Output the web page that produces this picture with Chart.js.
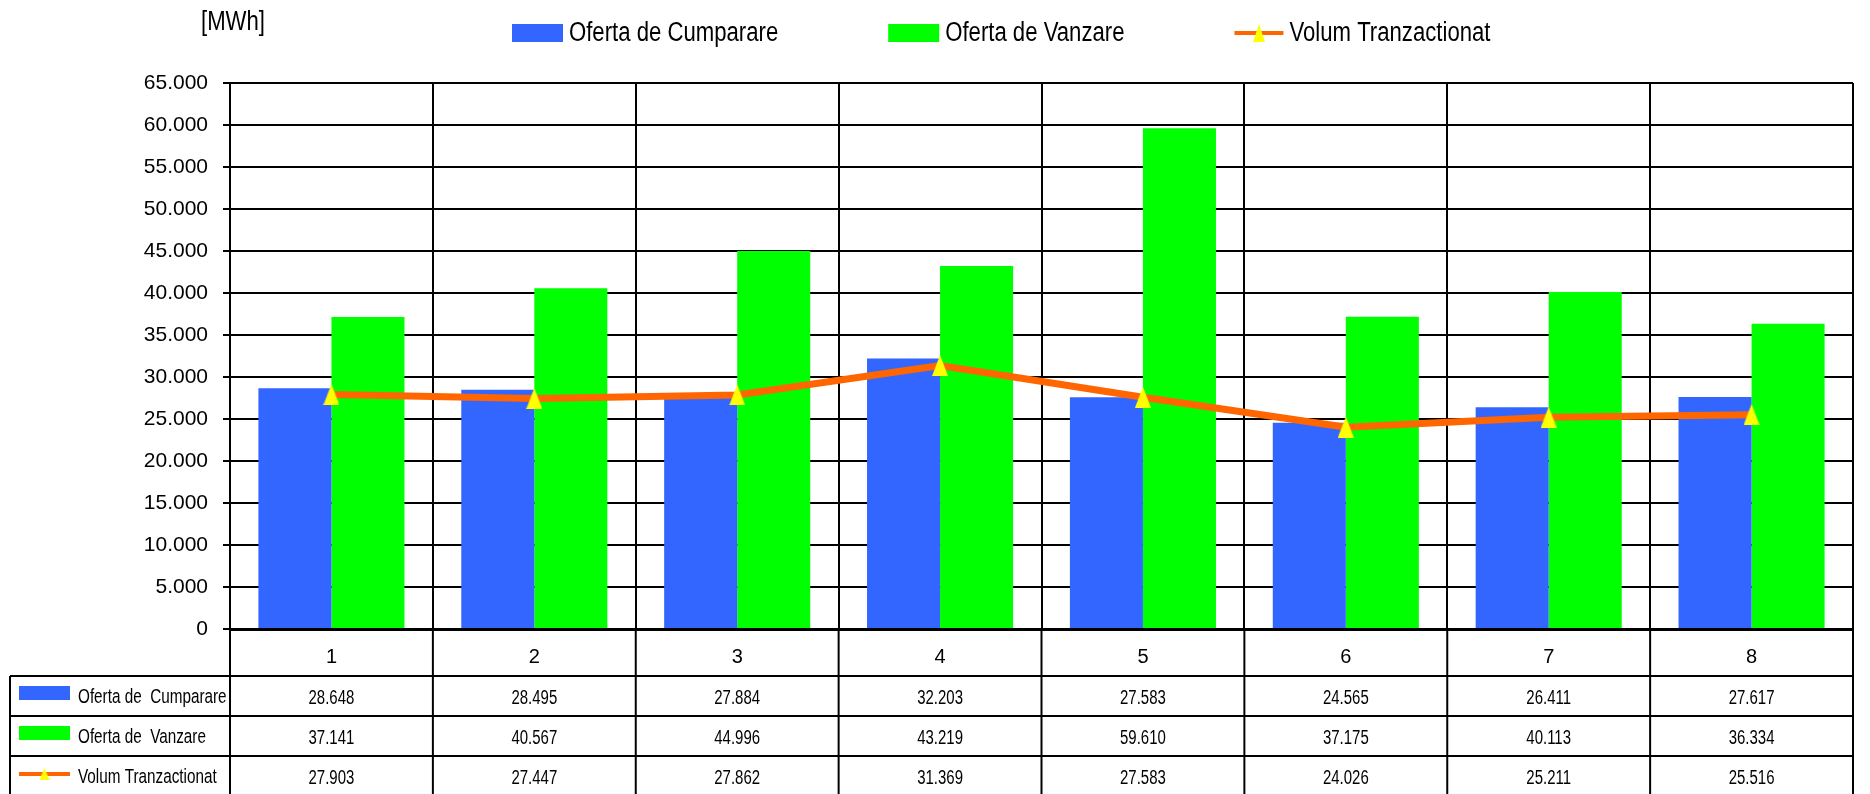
<!DOCTYPE html>
<html>
<head>
<meta charset="utf-8">
<script src="https://cdn.jsdelivr.net/npm/chart.js@4.4.1/dist/chart.umd.min.js"></script>
<style>
  html, body { margin: 0; padding: 0; background: #fff; }
  canvas { display: block; }
</style>
</head>
<body>
<canvas id="chart" width="1870" height="794"></canvas>
<script>
const categories = ['1', '2', '3', '4', '5', '6', '7', '8'];
const ofertaCumparare = [28648, 28495, 27884, 32203, 27583, 24565, 26411, 27617];
const ofertaVanzare = [37141, 40567, 44996, 43219, 59610, 37175, 40113, 36334];
const volumTranzactionat = [27903, 27447, 27862, 31369, 27583, 24026, 25211, 25516];
const seriesNames = ['Oferta de Cumparare', 'Oferta de Vanzare', 'Volum Tranzactionat'];
const tableNames = ['Oferta de  Cumparare', 'Oferta de  Vanzare', 'Volum Tranzactionat'];
const unitLabel = '[MWh]';

const FONT = "'Liberation Sans', Arial, sans-serif";
const BLUE = '#3366FF', GREEN = '#00FF00', ORANGE = '#FF6600', YELLOW = '#FFFF00';

const fmt = v => String(Math.round(v)).replace(/\B(?=(\d{3})+(?!\d))/g, '.');

function makeTriangle(w, h) {
    const c = document.createElement('canvas');
    c.width = w;
    c.height = h;
    const g = c.getContext('2d');
    g.fillStyle = YELLOW;
    g.beginPath();
    g.moveTo(w / 2, 0);
    g.lineTo(w, h);
    g.lineTo(0, h);
    g.closePath();
    g.fill();
    return c;
}

const pointTri = makeTriangle(16, 21);
const legendTri = makeTriangle(12, 18);
const tableTri = makeTriangle(10, 12);

function line(ctx, x1, y1, x2, y2) {
    ctx.beginPath();
    ctx.moveTo(x1, y1);
    ctx.lineTo(x2, y2);
    ctx.stroke();
}

// narrow text: the original uses a condensed face, squeeze horizontally
function text(ctx, str, x, y, size, align, sx) {
    ctx.save();
    ctx.font = `${size}px ${FONT}`;
    ctx.textAlign = align;
    ctx.textBaseline = 'middle';
    ctx.fillStyle = '#000';
    ctx.translate(x, y);
    ctx.scale(sx, 1);
    ctx.fillText(str, 0, 0);
    const w = ctx.measureText(str).width * sx;
    ctx.restore();
    return w;
}

// swatch used by legend and table rows
function drawSwatch(ctx, ds, x, yMid, w, h, tri) {
    if (ds.type === 'line') {
        ctx.strokeStyle = ds.borderColor;
        ctx.lineWidth = 4;
        line(ctx, x, yMid, x + w, yMid);
        ctx.drawImage(tri, x + w / 2 - tri.width / 2, yMid - tri.height / 2);
    } else {
        ctx.fillStyle = ds.backgroundColor;
        ctx.fillRect(x, yMid - h / 2, w, h);
    }
}

const extras = {
    id: 'extras',
    afterDraw(chart) {
        const {ctx, chartArea: area, scales: {x}} = chart;
        const H = chart.height;
        const dsList = chart.data.datasets;
        const half = (x.getPixelForValue(1) - x.getPixelForValue(0)) / 2;
        const edges = categories.map((_, i) => x.getPixelForValue(i) - half);
        edges.push(x.getPixelForValue(categories.length - 1) + half);

        ctx.save();

        // unit label
        text(ctx, unitLabel, 201, 23, 27, 'left', 0.82);

        // legend
        let lx = 512;
        dsList.forEach(ds => {
            const w = ds.type === 'line' ? 49 : 51;
            drawSwatch(ctx, ds, lx, 33, w, 18, legendTri);
            lx += w + 6;
            lx += text(ctx, ds.label, lx, 34, 27, 'left', 0.82) + 110;
        });

        // data table
        const tableTop = 676, rowH = 40, tableLeft = 10;
        ctx.strokeStyle = '#000';
        ctx.lineWidth = 2;
        edges.forEach(e => line(ctx, e, area.bottom, e, H));
        line(ctx, tableLeft, tableTop, tableLeft, H);
        for (let r = 0; r < 3; r++) {
            line(ctx, tableLeft, tableTop + r * rowH, edges[edges.length - 1], tableTop + r * rowH);
        }

        dsList.forEach((ds, r) => {
            const yMid = tableTop + r * rowH + rowH / 2;
            drawSwatch(ctx, ds, 19, ds.type === 'line' ? yMid - 2 : yMid - 3, 51, 14, tableTri);
            text(ctx, tableNames[r], 78, yMid + 1, 20.5, 'left', 0.745);
            ds.data.forEach((v, i) => text(ctx, fmt(v), x.getPixelForValue(i), yMid + 2, 20.5, 'center', 0.73));
        });

        ctx.restore();
    }
};

new Chart(document.getElementById('chart'), {
    type: 'bar',
    data: {
        labels: categories,
        datasets: [
            {
                label: seriesNames[0],
                data: ofertaCumparare,
                backgroundColor: BLUE,
                categoryPercentage: 0.72,
                barPercentage: 1,
                order: 1
            },
            {
                label: seriesNames[1],
                data: ofertaVanzare,
                backgroundColor: GREEN,
                categoryPercentage: 0.72,
                barPercentage: 1,
                order: 1
            },
            {
                type: 'line',
                label: seriesNames[2],
                data: volumTranzactionat,
                borderColor: ORANGE,
                backgroundColor: YELLOW,
                borderWidth: 7,
                tension: 0,
                pointStyle: pointTri,
                pointRadius: 10,
                order: 0
            }
        ]
    },
    options: {
        responsive: false,
        animation: false,
        devicePixelRatio: 1,
        layout: {
            padding: {top: 83, right: 3, bottom: 117, left: 0}
        },
        plugins: {
            legend: {display: false},
            tooltip: {enabled: false}
        },
        scales: {
            x: {
                grid: {
                    color: '#000',
                    lineWidth: 2,
                    drawTicks: false,
                    offset: true
                },
                border: {color: '#000', width: 3},
                ticks: {
                    color: '#000',
                    font: {family: FONT, size: 20},
                    padding: 16
                },
                afterFit: s => { s.height = 48; }
            },
            y: {
                min: 0,
                max: 65000,
                ticks: {
                    stepSize: 5000,
                    color: '#000',
                    font: {family: FONT, size: 21},
                    padding: 15,
                    callback: v => fmt(v)
                },
                grid: {
                    color: '#000',
                    lineWidth: 2,
                    tickLength: 7
                },
                border: {color: '#000', width: 2},
                afterFit: s => { s.width = 230; }
            }
        }
    },
    plugins: [extras]
});
</script>
</body>
</html>
